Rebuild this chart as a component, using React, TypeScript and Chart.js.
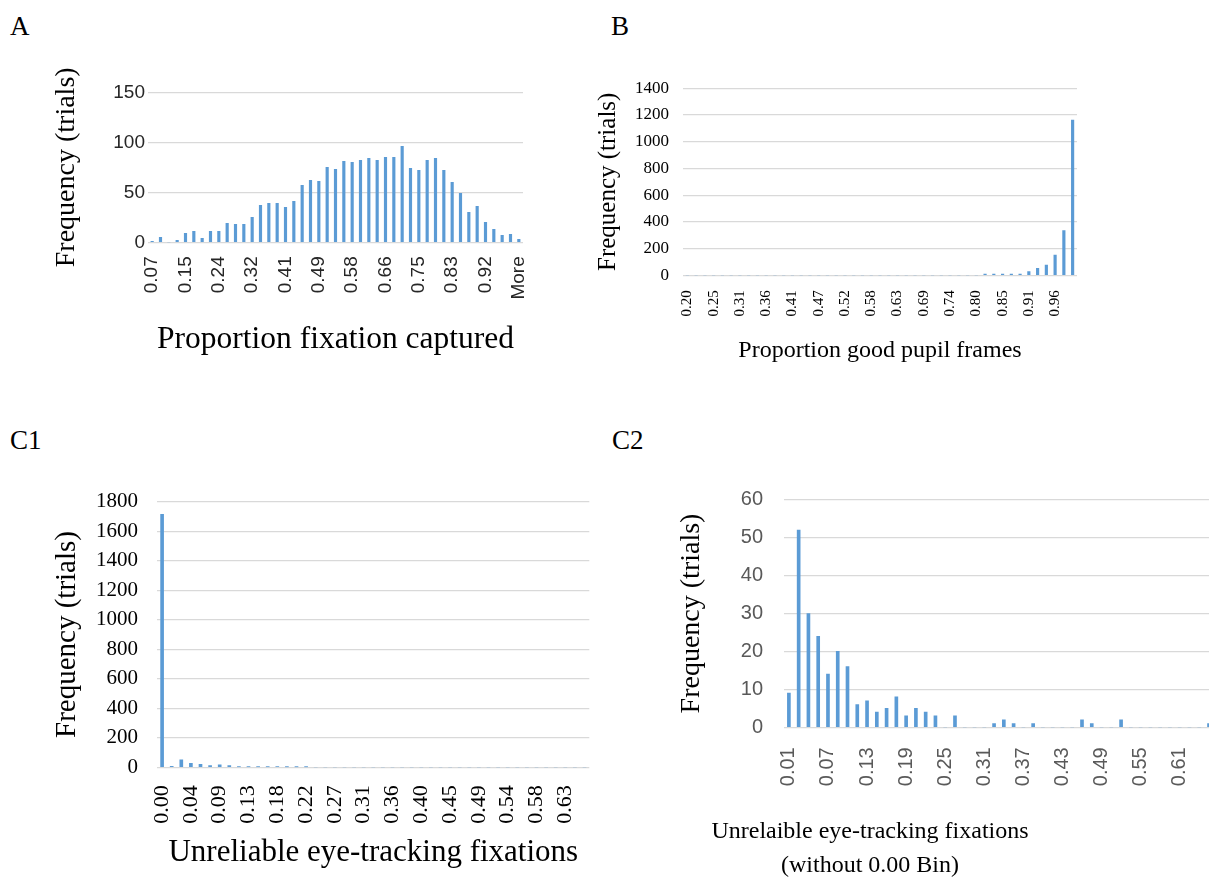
import React, { useEffect, useRef } from 'react';
import { Chart, registerables } from 'chart.js';
Chart.register(...registerables);

const BLUE = '#5B9BD5';
const GRID = '#D9D9D9';
const SERIF = "'Liberation Serif', 'Times New Roman', serif";
const SANS = "'Liberation Sans', Arial, sans-serif";

// ---------- Panel A : Proportion fixation captured ----------
const aLabels = [
  '0.07', '0.09', '0.11', '0.13', '0.15', '0.18', '0.20', '0.22', '0.24', '0.26', '0.28', '0.30',
  '0.32', '0.35', '0.37', '0.39', '0.41', '0.43', '0.45', '0.47', '0.49', '0.52', '0.54', '0.56',
  '0.58', '0.60', '0.62', '0.64', '0.66', '0.69', '0.71', '0.73', '0.75', '0.77', '0.79', '0.81',
  '0.83', '0.86', '0.88', '0.90', '0.92', '0.94', '0.96', '0.98', 'More',
];
const aValues = [
  1, 5, 0, 2, 9, 11, 4, 11, 11, 19, 18, 18, 25, 37, 39, 39, 35, 41, 57, 62, 61, 75, 73, 81,
  80, 82, 84, 82, 85, 85, 96, 74, 72, 82, 84, 72, 60, 49, 30, 36, 20, 13, 7, 8, 3,
];
const aYMax = 150;
const aYStep = 50;

// ---------- Panel B : Proportion good pupil frames ----------
const bLabels = [
  '0.20', '0.22', '0.23', '0.25', '0.27', '0.29', '0.31', '0.32', '0.34', '0.36', '0.38', '0.40',
  '0.41', '0.43', '0.45', '0.47', '0.49', '0.50', '0.52', '0.54', '0.56', '0.58', '0.60', '0.61',
  '0.63', '0.65', '0.67', '0.69', '0.70', '0.72', '0.74', '0.76', '0.78', '0.80', '0.81', '0.83',
  '0.85', '0.87', '0.89', '0.91', '0.92', '0.94', '0.96', '0.98', '1.00',
];
const bValues = [
  0, 0, 0, 0, 0, 0, 0, 0, 0, 0, 0, 0, 0, 0, 0, 0, 0, 0, 0, 0, 0, 0, 0, 0, 0, 0, 0, 0, 0, 0,
  0, 0, 0, 0, 10, 10, 10, 10, 10, 27, 52, 77, 152, 335, 1163,
];
const bYMax = 1400;
const bYStep = 200;

// ---------- Panel C1 : Unreliable eye-tracking fixations ----------
const c1Labels = [
  '0.00', '0.01', '0.03', '0.04', '0.06', '0.07', '0.09', '0.10', '0.12', '0.13', '0.15', '0.16',
  '0.18', '0.19', '0.21', '0.22', '0.24', '0.25', '0.27', '0.28', '0.30', '0.31', '0.33', '0.34',
  '0.36', '0.37', '0.39', '0.40', '0.42', '0.43', '0.45', '0.46', '0.48', '0.49', '0.51', '0.52',
  '0.54', '0.55', '0.57', '0.58', '0.60', '0.61', '0.63', '0.64', '0.66',
];
const c1Values = [
  1714, 6, 50, 27, 20, 11, 16, 11, 3, 3, 2, 2, 4, 1, 1, 1, 0, 0, 0, 0, 0, 0, 0, 0,
  0, 0, 0, 0, 0, 0, 0, 0, 0, 0, 0, 0, 0, 0, 0, 0, 0, 0, 0, 0, 0,
];
const c1YMax = 1800;
const c1YStep = 200;

// ---------- Panel C2 : without 0.00 bin ----------
const c2Labels = [
  '0.01', '0.03', '0.04', '0.06', '0.07', '0.08', '0.10', '0.12', '0.13', '0.15', '0.16', '0.17',
  '0.19', '0.20', '0.22', '0.24', '0.25', '0.27', '0.28', '0.30', '0.31', '0.33', '0.34', '0.36',
  '0.37', '0.39', '0.40', '0.42', '0.43', '0.45', '0.46', '0.48', '0.49', '0.51', '0.52', '0.54',
  '0.55', '0.57', '0.58', '0.60', '0.61', '0.63', '0.64', '0.66',
];
const c2Values = [
  9, 52, 30, 24, 14, 20, 16, 6, 7, 4, 5, 8, 3, 5, 4, 3, 0, 3, 0, 0, 0, 1, 2, 1,
  0, 1, 0, 0, 0, 0, 2, 1, 0, 0, 2, 0, 0, 0, 0, 0, 0, 0, 0, 1,
];
const c2YMax = 60;
const c2YStep = 10;

type Font = { family: string; size: number };
type Spec = {
  box: { left: number; top: number; height: number };
  plot: { left: number; top: number; right: number; bottom: number };
  labels: string[];
  values: number[];
  yMax: number;
  yStep: number;
  every: number;
  barThickness: number;
  xTickFont: Font;
  xTickColor: string;
  xTickPad: number;
  yTickFont: Font;
  yTickColor: string;
  yTickRight: number;
  yTitle: string;
  yTitleSize: number;
  yTitleX: number;
  xTitle?: string;
  xTitleSize?: number;
  xTitleY?: number;
  free?: { lines: string[]; x: number; y: number; gap: number; size: number };
};

const RIGHT_PAD = 45;

const freeTitlePlugin = {
  id: 'freeTitle',
  afterDraw(chart: any, _args: any, opts: any) {
    if (!opts || !opts.lines) return;
    const ctx = chart.ctx;
    ctx.save();
    ctx.font = `${opts.size}px ${SERIF}`;
    ctx.fillStyle = '#000';
    ctx.textAlign = 'center';
    ctx.textBaseline = 'middle';
    opts.lines.forEach((l: string, i: number) => ctx.fillText(l, opts.x, opts.y + i * opts.gap));
    ctx.restore();
  },
};

function canvasWidth(p: Spec) {
  return Math.round(p.plot.right + RIGHT_PAD - p.box.left);
}

function buildChart(canvas: HTMLCanvasElement, p: Spec) {
  const yAxisW = p.plot.left - p.box.left;
  const xAxisH = p.box.top + p.box.height - p.plot.bottom;
  const padTop = p.plot.top - p.box.top;
  const padRight = p.box.left + canvasWidth(p) - p.plot.right;
  const yLH = p.yTitleSize * 1.2;
  const yTitlePad = p.yTitleX - p.box.left - yLH / 2;
  const xLH = (p.xTitleSize || 10) * 1.2;
  const xTitlePad = p.xTitleY ? p.box.top + p.box.height - p.xTitleY - xLH / 2 : 0;
  const yTickPad = p.plot.left - p.yTickRight;
  const freeOpts = p.free
    ? { ...p.free, x: p.free.x - p.box.left, y: p.free.y - p.box.top }
    : {};
  return new Chart(canvas, {
    type: 'bar',
    data: {
      labels: p.labels,
      datasets: [
        {
          data: p.values,
          backgroundColor: BLUE,
          borderWidth: 0,
          barThickness: p.barThickness,
        },
      ],
    },
    options: {
      animation: false,
      responsive: false,
      maintainAspectRatio: false,
      layout: { padding: { top: padTop, right: padRight, left: 0, bottom: 0 } },
      plugins: {
        legend: { display: false },
        tooltip: { enabled: false },
        freeTitle: freeOpts,
      } as any,
      scales: {
        x: {
          grid: { display: false },
          border: { display: false },
          ticks: {
            autoSkip: false,
            minRotation: 90,
            maxRotation: 90,
            padding: p.xTickPad,
            color: p.xTickColor,
            font: p.xTickFont,
            callback: (_v: any, i: number) => (i % p.every === 0 ? p.labels[i] : ''),
          },
          title: p.xTitle
            ? {
                display: true,
                text: p.xTitle,
                color: '#000',
                font: { family: SERIF, size: p.xTitleSize, lineHeight: 1.2 },
                padding: { top: 0, bottom: xTitlePad },
              }
            : { display: false },
          afterFit: (s: any) => {
            s.height = xAxisH;
          },
        },
        y: {
          min: 0,
          max: p.yMax,
          grid: { color: GRID, lineWidth: 1.2, drawTicks: false },
          border: { display: false },
          ticks: {
            stepSize: p.yStep,
            autoSkip: false,
            padding: yTickPad,
            color: p.yTickColor,
            font: p.yTickFont,
            callback: (v: any) => String(v),
          },
          title: {
            display: true,
            text: p.yTitle,
            color: '#000',
            font: { family: SERIF, size: p.yTitleSize, lineHeight: 1.2 },
            padding: { top: yTitlePad, bottom: 0 },
          },
          afterFit: (s: any) => {
            s.width = yAxisW;
          },
        },
      },
    } as any,
    plugins: p.free ? [freeTitlePlugin] : [],
  });
}

const specA: Spec = {
  box: { left: 40, top: 50, height: 320 },
  plot: { left: 148, top: 92.3, right: 523, bottom: 242.3 },
  labels: aLabels,
  values: aValues,
  yMax: aYMax,
  yStep: aYStep,
  every: 4,
  barThickness: 2.5,
  xTickFont: { family: SANS, size: 19 },
  xTickColor: '#262626',
  xTickPad: 6,
  yTickFont: { family: SANS, size: 19 },
  yTickColor: '#262626',
  yTickRight: 145,
  yTitle: 'Frequency (trials)',
  yTitleSize: 28,
  yTitleX: 67,
  xTitle: 'Proportion fixation captured',
  xTitleSize: 31.5,
  xTitleY: 340,
};

const specB: Spec = {
  box: { left: 585, top: 45, height: 330 },
  plot: { left: 683, top: 88.3, right: 1077, bottom: 275.3 },
  labels: bLabels,
  values: bValues,
  yMax: bYMax,
  yStep: bYStep,
  every: 3,
  barThickness: 2.5,
  xTickFont: { family: SERIF, size: 15 },
  xTickColor: '#000',
  xTickPad: 7,
  yTickFont: { family: SERIF, size: 17 },
  yTickColor: '#000',
  yTickRight: 669,
  yTitle: 'Frequency (trials)',
  yTitleSize: 25,
  yTitleX: 608,
  xTitle: 'Proportion good pupil frames',
  xTitleSize: 24,
  xTitleY: 351,
};

const specC1: Spec = {
  box: { left: 40, top: 455, height: 427 },
  plot: { left: 157.3, top: 501.7, right: 589.3, bottom: 767.3 },
  labels: c1Labels,
  values: c1Values,
  yMax: c1YMax,
  yStep: c1YStep,
  every: 3,
  barThickness: 3,
  xTickFont: { family: SERIF, size: 22 },
  xTickColor: '#000',
  xTickPad: 10,
  yTickFont: { family: SERIF, size: 21 },
  yTickColor: '#000',
  yTickRight: 138,
  yTitle: 'Frequency (trials)',
  yTitleSize: 29,
  yTitleX: 67,
  xTitle: 'Unreliable eye-tracking fixations',
  xTitleSize: 31,
  xTitleY: 853,
};

const specC2: Spec = {
  box: { left: 620, top: 455, height: 427 },
  plot: { left: 784, top: 499.7, right: 1213.9, bottom: 727.3 },
  labels: c2Labels,
  values: c2Values,
  yMax: c2YMax,
  yStep: c2YStep,
  every: 4,
  barThickness: 3,
  xTickFont: { family: SANS, size: 20 },
  xTickColor: '#595959',
  xTickPad: 12,
  yTickFont: { family: SANS, size: 20 },
  yTickColor: '#595959',
  yTickRight: 763,
  yTitle: 'Frequency (trials)',
  yTitleSize: 28,
  yTitleX: 692,
  free: {
    lines: ['Unrelaible eye-tracking fixations', '(without 0.00 Bin)'],
    x: 870,
    y: 832,
    gap: 34,
    size: 24,
  },
};

function Panel({ spec }: { spec: Spec }) {
  const ref = useRef<HTMLCanvasElement | null>(null);
  useEffect(() => {
    if (!ref.current) return;
    const chart = buildChart(ref.current, spec);
    return () => chart.destroy();
  }, [spec]);
  const { left, top, height } = spec.box;
  const width = canvasWidth(spec);
  return (
    <canvas
      ref={ref}
      width={width}
      height={height}
      style={{ position: 'absolute', left, top, width, height }}
    />
  );
}

const letterStyle: React.CSSProperties = {
  position: 'absolute',
  fontFamily: SERIF,
  fontSize: 27,
  lineHeight: '30px',
  color: '#000',
};

export default function App() {
  return (
    <div
      style={{
        position: 'fixed',
        left: 0,
        top: 0,
        width: 1209,
        height: 882,
        overflow: 'hidden',
        background: '#fff',
      }}
    >
      <div style={{ ...letterStyle, left: 10, top: 11 }}>A</div>
      <div style={{ ...letterStyle, left: 611, top: 11 }}>B</div>
      <div style={{ ...letterStyle, left: 10, top: 425 }}>C1</div>
      <div style={{ ...letterStyle, left: 612, top: 425 }}>C2</div>
      <Panel spec={specA} />
      <Panel spec={specB} />
      <Panel spec={specC1} />
      <Panel spec={specC2} />
    </div>
  );
}
